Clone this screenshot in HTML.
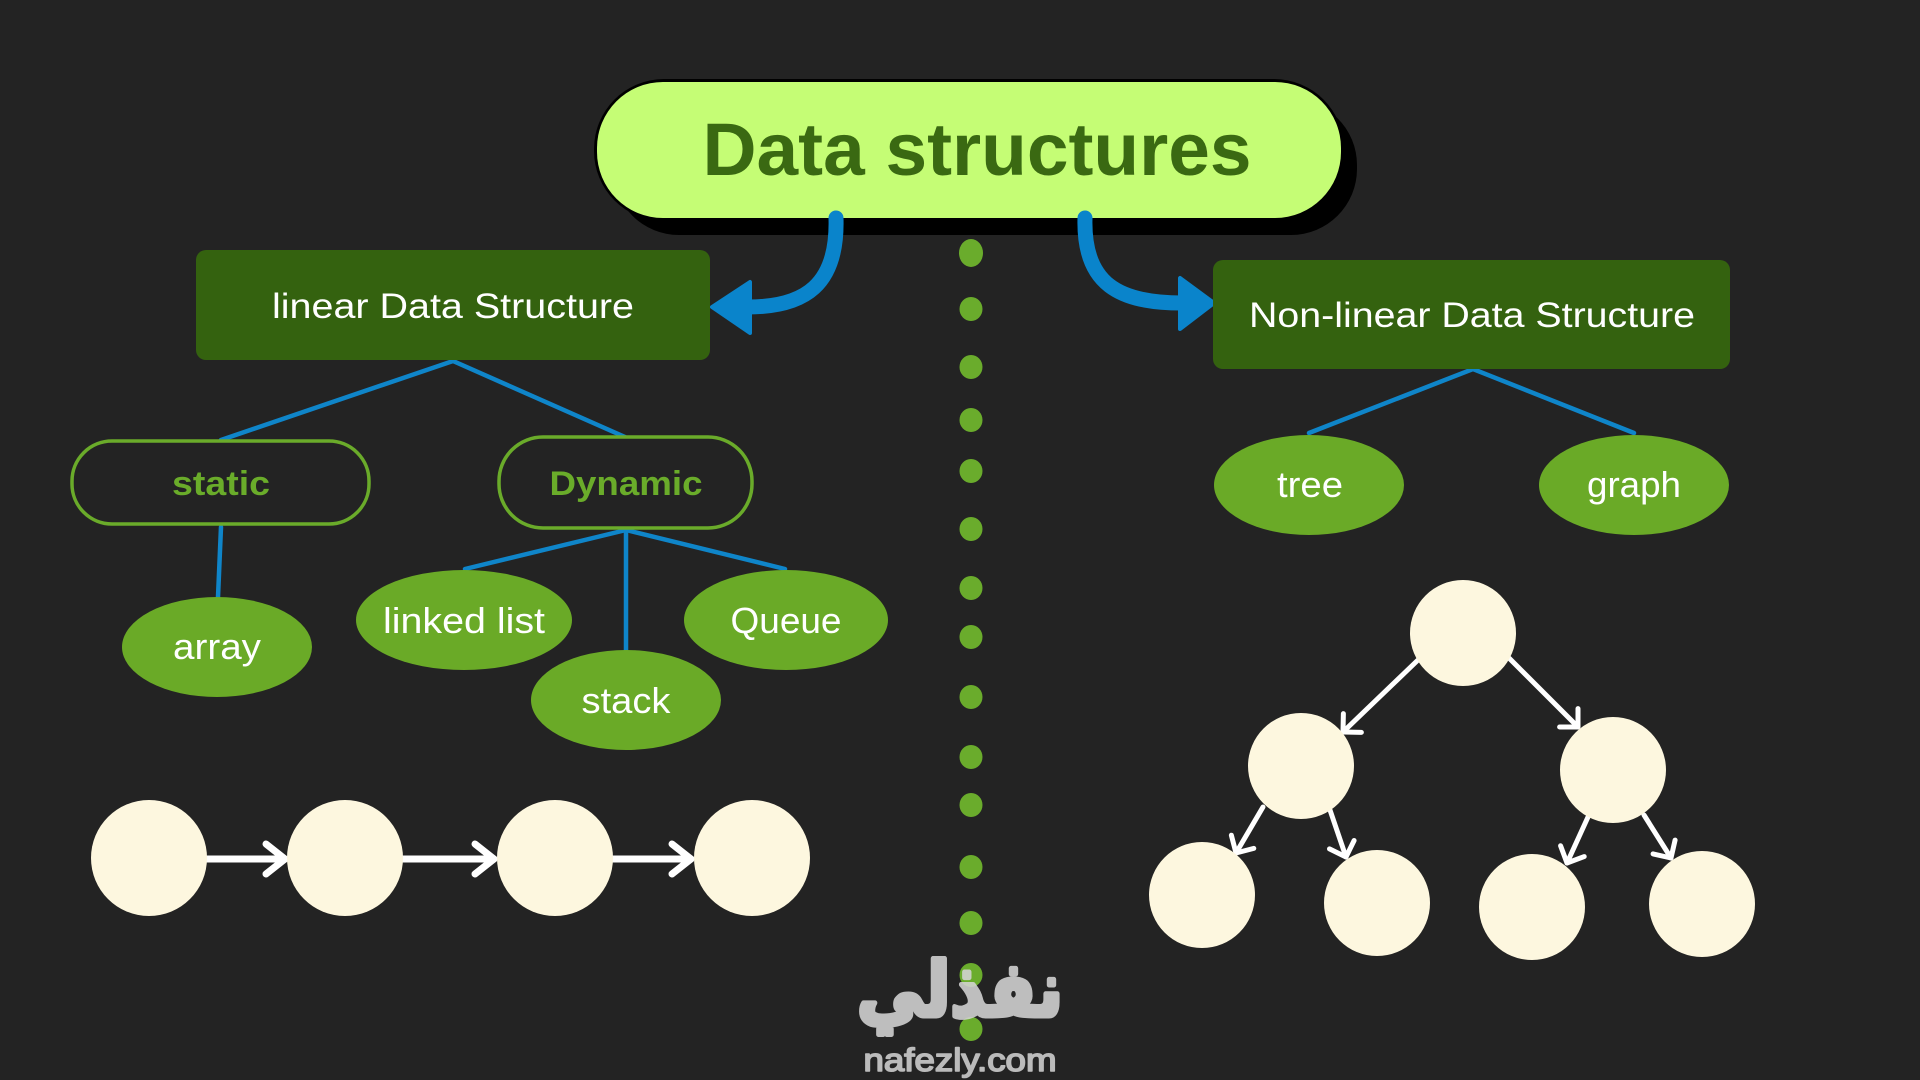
<!DOCTYPE html>
<html>
<head>
<meta charset="utf-8">
<style>
  html, body { margin:0; padding:0; background:#232323; }
  body { width:1920px; height:1080px; overflow:hidden; }
  svg { display:block; }
</style>
</head>
<body>
<svg width="1920" height="1080" viewBox="0 0 1920 1080" xmlns="http://www.w3.org/2000/svg">
  <defs>
    <marker id="chev" viewBox="-24 -20 30 40" markerWidth="30" markerHeight="40" refX="0" refY="0" orient="auto" markerUnits="userSpaceOnUse">
      <path d="M -13 -13 L 0 0 L -13 13" fill="none" stroke="#ffffff" stroke-width="5" stroke-linecap="round" stroke-linejoin="round"/>
    </marker>
    <marker id="chev2" viewBox="-26 -20 32 40" markerWidth="32" markerHeight="40" refX="0" refY="0" orient="auto" markerUnits="userSpaceOnUse">
      <path d="M -19 -15 L 0 0 L -19 15" fill="none" stroke="#ffffff" stroke-width="7" stroke-linecap="round" stroke-linejoin="round"/>
    </marker>
  </defs>

  <rect x="0" y="0" width="1920" height="1080" fill="#232323"/>

  <!-- dotted divider -->
  <g fill="#6aac2c">
    <ellipse cx="971" cy="253" rx="12" ry="14"/>
    <ellipse cx="971" cy="309" rx="11.5" ry="12"/>
    <ellipse cx="971" cy="367" rx="11.5" ry="12"/>
    <ellipse cx="971" cy="420" rx="11.5" ry="12"/>
    <ellipse cx="971" cy="471" rx="11.5" ry="12"/>
    <ellipse cx="971" cy="529" rx="11.5" ry="12"/>
    <ellipse cx="971" cy="588" rx="11.5" ry="12"/>
    <ellipse cx="971" cy="637" rx="11.5" ry="12"/>
    <ellipse cx="971" cy="697" rx="11.5" ry="12"/>
    <ellipse cx="971" cy="757" rx="11.5" ry="12"/>
    <ellipse cx="971" cy="805" rx="11.5" ry="12"/>
    <ellipse cx="971" cy="867" rx="11.5" ry="12"/>
    <ellipse cx="971" cy="923" rx="11.5" ry="12"/>
    <ellipse cx="971" cy="975" rx="11.5" ry="12"/>
    <ellipse cx="971" cy="1029" rx="11.5" ry="12"/>
  </g>

  <!-- Title pill -->
  <rect x="613" y="99" width="744" height="136" rx="66" fill="#000"/>
  <rect x="594" y="79" width="750" height="142" rx="70" fill="#000"/>
  <rect x="597" y="82" width="744" height="136" rx="66" fill="#c5fd75"/>
  <text x="977" y="175" text-anchor="middle" font-family="'Liberation Sans', sans-serif" font-weight="bold" font-size="74" fill="#3a6912" textLength="549" lengthAdjust="spacingAndGlyphs">Data structures</text>

  <!-- blue curved arrows -->
  <path d="M 836 218 C 838 285, 805 307, 748 307" fill="none" stroke="#0a84cb" stroke-width="15" stroke-linecap="round"/>
  <polygon points="712,307 750,282 750,333" fill="#0a84cb" stroke="#0a84cb" stroke-width="4" stroke-linejoin="round"/>
  <path d="M 1085 218 C 1083 285, 1120 303, 1182 303" fill="none" stroke="#0a84cb" stroke-width="15" stroke-linecap="round"/>
  <polygon points="1214,303 1180,278 1180,329" fill="#0a84cb" stroke="#0a84cb" stroke-width="4" stroke-linejoin="round"/>

  <!-- blue connector lines -->
  <g stroke="#0f85c9" stroke-width="4.5" fill="none" stroke-linecap="round">
    <polyline points="221,440 453,361 625,437"/>
    <line x1="221" y1="527" x2="218" y2="597"/>
    <line x1="626" y1="530" x2="465" y2="569"/>
    <line x1="626" y1="530" x2="626" y2="651"/>
    <line x1="626" y1="530" x2="785" y2="569"/>
    <polyline points="1309,433 1473,369 1634,433"/>
  </g>

  <!-- linear box -->
  <rect x="196" y="250" width="514" height="110" rx="10" fill="#34620f"/>
  <text x="453" y="318" text-anchor="middle" font-family="'Liberation Sans', sans-serif" font-size="35" fill="#ffffff" textLength="362" lengthAdjust="spacingAndGlyphs">linear Data Structure</text>

  <!-- non-linear box -->
  <rect x="1213" y="260" width="517" height="109" rx="10" fill="#34620f"/>
  <text x="1472" y="327" text-anchor="middle" font-family="'Liberation Sans', sans-serif" font-size="35" fill="#ffffff" textLength="446" lengthAdjust="spacingAndGlyphs">Non-linear Data Structure</text>

  <!-- static / Dynamic pills -->
  <rect x="72" y="441" width="297" height="83" rx="40" fill="#232323" stroke="#6aab2a" stroke-width="3.5"/>
  <text x="221" y="495" text-anchor="middle" font-family="'Liberation Sans', sans-serif" font-weight="bold" font-size="34" fill="#6aac2a" textLength="98" lengthAdjust="spacingAndGlyphs">static</text>
  <rect x="499" y="437" width="253" height="91" rx="44" fill="#232323" stroke="#6aab2a" stroke-width="3.5"/>
  <text x="626" y="495" text-anchor="middle" font-family="'Liberation Sans', sans-serif" font-weight="bold" font-size="34" fill="#6aac2a" textLength="153" lengthAdjust="spacingAndGlyphs">Dynamic</text>

  <!-- green ellipses -->
  <g fill="#6aaa27">
    <ellipse cx="217" cy="647" rx="95" ry="50"/>
    <ellipse cx="464" cy="620" rx="108" ry="50"/>
    <ellipse cx="626" cy="700" rx="95" ry="50"/>
    <ellipse cx="786" cy="620" rx="102" ry="50"/>
    <ellipse cx="1309" cy="485" rx="95" ry="50"/>
    <ellipse cx="1634" cy="485" rx="95" ry="50"/>
  </g>
  <g font-family="'Liberation Sans', sans-serif" font-size="36" fill="#ffffff" text-anchor="middle">
    <text x="217" y="659" textLength="88" lengthAdjust="spacingAndGlyphs">array</text>
    <text x="464" y="633" textLength="162" lengthAdjust="spacingAndGlyphs">linked list</text>
    <text x="626" y="713" textLength="89" lengthAdjust="spacingAndGlyphs">stack</text>
    <text x="786" y="633" textLength="111" lengthAdjust="spacingAndGlyphs">Queue</text>
    <text x="1310" y="497" textLength="66" lengthAdjust="spacingAndGlyphs">tree</text>
    <text x="1634" y="497" textLength="94" lengthAdjust="spacingAndGlyphs">graph</text>
  </g>

  <!-- linked list chain -->
  <g stroke="#ffffff" stroke-width="7" fill="none" stroke-linecap="round">
    <line x1="205" y1="859" x2="285" y2="859" marker-end="url(#chev2)"/>
    <line x1="401" y1="859" x2="494" y2="859" marker-end="url(#chev2)"/>
    <line x1="610" y1="859" x2="691" y2="859" marker-end="url(#chev2)"/>
  </g>
  <g fill="#fdf7df">
    <ellipse cx="149" cy="858" rx="58" ry="58"/>
    <ellipse cx="345" cy="858" rx="58" ry="58"/>
    <ellipse cx="555" cy="858" rx="58" ry="58"/>
    <ellipse cx="752" cy="858" rx="58" ry="58"/>
  </g>

  <!-- tree diagram -->
  <g stroke="#ffffff" stroke-width="5" fill="none" stroke-linecap="round">
    <line x1="1418" y1="660" x2="1343" y2="732" marker-end="url(#chev)"/>
    <line x1="1509" y1="658" x2="1578" y2="727" marker-end="url(#chev)"/>
    <line x1="1263" y1="807" x2="1236" y2="853" marker-end="url(#chev)"/>
    <line x1="1330" y1="810" x2="1346" y2="857" marker-end="url(#chev)"/>
    <line x1="1588" y1="817" x2="1567" y2="863" marker-end="url(#chev)"/>
    <line x1="1644" y1="815" x2="1671" y2="858" marker-end="url(#chev)"/>
  </g>
  <g fill="#fdf7df">
    <ellipse cx="1463" cy="633" rx="53" ry="53"/>
    <ellipse cx="1301" cy="766" rx="53" ry="53"/>
    <ellipse cx="1613" cy="770" rx="53" ry="53"/>
    <ellipse cx="1202" cy="895" rx="53" ry="53"/>
    <ellipse cx="1377" cy="903" rx="53" ry="53"/>
    <ellipse cx="1532" cy="907" rx="53" ry="53"/>
    <ellipse cx="1702" cy="904" rx="53" ry="53"/>
  </g>

  <!-- logo -->
  <g opacity="0.88">
    <text x="960" y="1016" text-anchor="middle" font-family="'DejaVu Sans', sans-serif" font-weight="bold" font-size="76" fill="#d4d4d4" stroke="#d4d4d4" stroke-width="5" stroke-linejoin="round" textLength="206" lengthAdjust="spacingAndGlyphs">نفذلي</text>
    <text x="960" y="1071" text-anchor="middle" font-family="'Liberation Sans', sans-serif" font-size="32" fill="#d0d0d0" stroke="#d0d0d0" stroke-width="1.6" stroke-linejoin="round" textLength="193" lengthAdjust="spacingAndGlyphs">nafezly.com</text>
  </g>
</svg>
</body>
</html>
